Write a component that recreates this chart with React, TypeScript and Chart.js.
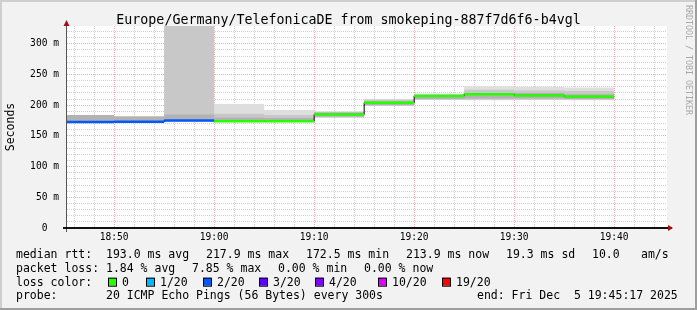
import React, { useEffect, useRef } from 'react';
import { Chart, registerables } from 'chart.js';

Chart.register(...registerables);

const FONT = '"DejaVu Sans Mono", monospace';

// ---------- text ----------
const titleText = 'Europe/Germany/TelefonicaDE from smokeping-887f7d6f6-b4vgl';
const yAxisTitle = 'Seconds';
const watermarkText = 'RRDTOOL / TOBI OETIKER';

// ---------- time range ----------
const rangeStart = '18:45:17';
const rangeEnd = '19:45:17';
const intervalStarts = ['18:45', '18:50', '18:55', '19:00', '19:05', '19:10', '19:15', '19:20', '19:25', '19:30', '19:35'];
const lastIntervalEnd = '19:40';

// ---------- series (ms) ----------
const medianRtt = [172.5, 173, 175, 174, 174, 185, 204, 215, 218, 216, 214];
const lostPings = [2, 2, 2, 0, 0, 0, 0, 0, 0, 0, 0];
const smokeOuterLo = [172, 172, 174, 173, 173, 180, 199, 209, 208, 209, 208];
const smokeOuterHi = [184, 182, 345, 202, 192, 190, 210, 219, 231, 230, 229];
const smokeMidLo = [172, 172, 174, 173, 173, 180, 199, 209, 209, 209, 209];
const smokeMidHi = [184, 182, 345, 186, 184, 189, 209, 218, 225, 224, 223];
const smokeCoreLo = [172, 172, 174, 173, 173, 181, 200, 210, 211, 211, 210];
const smokeCoreHi = [184, 181, 185, 180, 179, 188, 207, 216, 220, 220, 218];

// ---------- axes ----------
const yMax = 329;
const yTickStep = 10;
const yLabelStep = 50;
const xTickStepMin = 2;
const xLabelStepMin = 10;

// ---------- legend ----------
const lossThresholds = [0, 1, 2, 3, 4, 10, 19];
const lossLabels = ['0', '1/20', '2/20', '3/20', '4/20', '10/20', '19/20'];
const lossColors = ['#26ff00', '#00b8ff', '#0059ff', '#5e00ff', '#7e00ff', '#dd00ff', '#ff0000'];
const medianLabel = 'median rtt:';
const medianStats = ['193.0 ms avg', '217.9 ms max', '172.5 ms min', '213.9 ms now', '19.3 ms sd', '10.0', 'am/s'];
const lossLabel = 'packet loss:';
const lossStats = ['1.84 % avg', '7.85 % max', '0.00 % min', '0.00 % now'];
const lossColorLabel = 'loss color:';
const probeLabel = 'probe:';
const probeText = '20 ICMP Echo Pings (56 Bytes) every 300s';
const endText = 'end: Fri Dec  5 19:45:17 2025';

// ---------- helpers ----------
const toMin = (s: string) => {
  const [h, m, sec] = s.split(':').map(Number);
  return h * 60 + m + (sec || 0) / 60;
};
const fmtTime = (v: number) => {
  const h = Math.floor(v / 60);
  const m = Math.round(v - h * 60);
  return `${String(h).padStart(2, '0')}:${String(m).padStart(2, '0')}`;
};
const stepPoints = (vals: number[]) =>
  intervalStarts
    .map((t, i) => ({ x: toMin(t), y: vals[i] }))
    .concat([{ x: toMin(lastIntervalEnd), y: vals[vals.length - 1] }]);
const lossColorFor = (lost: number) => {
  let idx = 0;
  lossThresholds.forEach((t, i) => {
    if (lost >= t) idx = i;
  });
  return lossColors[idx];
};
const segmentPoints = () => {
  const pts: { x: number; y: number | null }[] = [];
  intervalStarts.forEach((t, i) => {
    const end = i + 1 < intervalStarts.length ? intervalStarts[i + 1] : lastIntervalEnd;
    pts.push({ x: toMin(t), y: medianRtt[i] });
    pts.push({ x: toMin(end), y: medianRtt[i] });
    pts.push({ x: toMin(end), y: null });
  });
  return pts;
};

const MINOR = 'rgba(150,150,150,0.45)';
const MAJOR = 'rgba(235,90,90,0.5)';

const band = (hi: number[], lo: number[], color: string, order: number) => [
  {
    data: stepPoints(hi),
    stepped: 'before' as const,
    borderWidth: 0,
    borderColor: 'transparent',
    backgroundColor: color,
    fill: '+1',
    pointRadius: 0,
    order,
  },
  {
    data: stepPoints(lo),
    stepped: 'before' as const,
    borderWidth: 0,
    borderColor: 'transparent',
    fill: false,
    pointRadius: 0,
    order,
  },
];

const decorPlugin = {
  id: 'decor',
  beforeDraw(chart: any) {
    const { ctx, chartArea: a, width, height } = chart;
    ctx.save();
    ctx.fillStyle = '#f2f2f2';
    ctx.fillRect(0, 0, width, height);
    ctx.fillStyle = '#cfcfcf';
    ctx.fillRect(0, 0, width, 2);
    ctx.fillRect(0, 0, 2, height);
    ctx.fillStyle = '#9e9e9e';
    ctx.fillRect(0, height - 2, width, 2);
    ctx.fillRect(width - 2, 0, 2, height);
    ctx.fillStyle = '#ffffff';
    ctx.fillRect(a.left, a.top, a.right - a.left, a.bottom - a.top);
    ctx.restore();
  },
  afterDraw(chart: any) {
    const { ctx, chartArea: a, width } = chart;
    ctx.save();
    // axes
    ctx.fillStyle = '#555';
    ctx.fillRect(Math.round(a.left) - 1, a.top - 5, 1, a.bottom - a.top + 9);
    ctx.fillStyle = '#111';
    ctx.fillRect(a.left - 4, Math.round(a.bottom) - 1, a.right - a.left + 9, 2);
    // arrows
    ctx.fillStyle = '#a01010';
    ctx.beginPath();
    ctx.moveTo(a.left - 0.5, a.top - 6);
    ctx.lineTo(a.left - 3.5, a.top);
    ctx.lineTo(a.left + 2.5, a.top);
    ctx.closePath();
    ctx.fill();
    ctx.beginPath();
    ctx.moveTo(a.right + 6, a.bottom);
    ctx.lineTo(a.right + 1, a.bottom - 3);
    ctx.lineTo(a.right + 1, a.bottom + 3);
    ctx.closePath();
    ctx.fill();

    // title
    ctx.fillStyle = '#000';
    ctx.font = `13.3px ${FONT}`;
    ctx.textAlign = 'center';
    ctx.textBaseline = 'alphabetic';
    ctx.fillText(titleText, width / 2, 24);

    // watermark
    ctx.save();
    ctx.translate(688.5, 5);
    ctx.rotate(Math.PI / 2);
    ctx.font = `8.3px ${FONT}`;
    ctx.fillStyle = '#a8a8a8';
    ctx.textAlign = 'left';
    ctx.textBaseline = 'middle';
    ctx.fillText(watermarkText, 0, 0);
    ctx.restore();

    // legend
    ctx.font = `11.5px ${FONT}`;
    ctx.textAlign = 'left';
    ctx.textBaseline = 'alphabetic';
    ctx.fillStyle = '#000';
    const rows = [258.3, 272, 285.7, 299.3];
    ctx.fillText(medianLabel, 16, rows[0]);
    const r1x = [106, 206, 306, 406, 506, 592, 641];
    medianStats.forEach((s, i) => ctx.fillText(s, r1x[i], rows[0]));
    ctx.fillText(lossLabel, 16, rows[1]);
    const r2x = [106, 192, 278, 364];
    lossStats.forEach((s, i) => ctx.fillText(s, r2x[i], rows[1]));
    ctx.fillText(lossColorLabel, 16, rows[2]);
    const swx = [108, 146, 203, 259, 315, 378, 442];
    lossLabels.forEach((s, i) => {
      ctx.fillStyle = lossColors[i];
      ctx.fillRect(swx[i], rows[2] - 8, 8, 8);
      ctx.strokeStyle = '#000';
      ctx.lineWidth = 1;
      ctx.strokeRect(swx[i] + 0.5, rows[2] - 7.5, 8, 8);
      ctx.fillStyle = '#000';
      ctx.fillText(s, swx[i] + 14, rows[2]);
    });
    ctx.fillText(probeLabel, 16, rows[3]);
    ctx.fillText(probeText, 106, rows[3]);
    ctx.fillText(endText, 477, rows[3]);
    ctx.restore();
  },
};

export default function App() {
  const ref = useRef<HTMLCanvasElement>(null);
  useEffect(() => {
    const canvas = ref.current;
    if (!canvas) return;
    const xMin = toMin(rangeStart);
    const xMax = toMin(rangeEnd);
    const chart = new Chart(canvas, {
      type: 'line',
      data: {
        datasets: [
          ...band(smokeOuterHi, smokeOuterLo, '#dedede', 6),
          ...band(smokeMidHi, smokeMidLo, '#c8c8c8', 5),
          ...band(smokeCoreHi, smokeCoreLo, '#b2b2b2', 4),
          {
            data: stepPoints(medianRtt),
            stepped: 'before',
            borderWidth: 1,
            borderColor: '#000',
            fill: false,
            pointRadius: 0,
            order: 2,
          },
          {
            data: segmentPoints(),
            borderWidth: 2.5,
            borderColor: lossColors[0],
            fill: false,
            pointRadius: 0,
            spanGaps: false,
            order: 1,
            segment: {
              borderColor: (c: any) => lossColorFor(lostPings[Math.floor(c.p0DataIndex / 3)]),
            },
          },
        ] as any,
      },
      options: {
        animation: false,
        responsive: false,
        maintainAspectRatio: false,
        devicePixelRatio: 1,
        events: [],
        layout: { padding: { top: 26, right: 30, bottom: 0, left: 0 } },
        plugins: {
          legend: { display: false },
          title: { display: false },
          tooltip: { enabled: false },
        },
        scales: {
          x: {
            type: 'linear',
            min: xMin,
            max: xMax,
            z: 1,
            afterBuildTicks: (scale: any) => {
              const ticks = [];
              for (let v = Math.ceil(xMin / xTickStepMin) * xTickStepMin; v <= xMax; v += xTickStepMin) {
                ticks.push({ value: v });
              }
              scale.ticks = ticks;
            },
            afterFit: (scale: any) => {
              scale.height = 82;
            },
            grid: {
              drawTicks: false,
              lineWidth: 1,
              color: (c: any) =>
                c.tick && Math.round(c.tick.value) % xLabelStepMin === 0 ? MAJOR : MINOR,
            },
            border: { display: false, dash: [1, 1] },
            ticks: {
              autoSkip: false,
              maxRotation: 0,
              minRotation: 0,
              padding: 4,
              color: '#000',
              font: { family: FONT, size: 9.6 },
              callback: (v: any) => (Math.round(v) % xLabelStepMin === 0 ? fmtTime(v) : ''),
            },
          },
          y: {
            type: 'linear',
            min: 0,
            max: yMax,
            z: 1,
            afterBuildTicks: (scale: any) => {
              const ticks = [];
              for (let v = 0; v <= yMax; v += yTickStep) ticks.push({ value: v });
              scale.ticks = ticks;
            },
            afterFit: (scale: any) => {
              scale.width = 67;
            },
            grid: {
              drawTicks: false,
              lineWidth: 1,
              color: (c: any) => {
                if (!c.tick) return MINOR;
                const v = Math.round(c.tick.value);
                if (v === 0) return 'transparent';
                return v % yLabelStep === 0 ? MAJOR : MINOR;
              },
            },
            border: { display: false, dash: [1, 1] },
            title: {
              display: true,
              text: yAxisTitle,
              color: '#000',
              font: { family: FONT, size: 11.5 },
              padding: { top: 4, bottom: 0 },
            },
            ticks: {
              autoSkip: false,
              padding: 8,
              color: '#000',
              font: { family: FONT, size: 9.6 },
              callback: (v: any) => {
                const n = Math.round(v);
                if (n % yLabelStep !== 0) return '';
                return n === 0 ? '0  ' : `${n} m`;
              },
            },
          },
        },
      } as any,
      plugins: [decorPlugin],
    });
    return () => chart.destroy();
  }, []);
  return (
    <div style={{ position: 'absolute', left: 0, top: 0, width: 697, height: 310 }}>
      <canvas ref={ref} width={697} height={310} style={{ display: 'block', width: 697, height: 310 }} />
    </div>
  );
}
